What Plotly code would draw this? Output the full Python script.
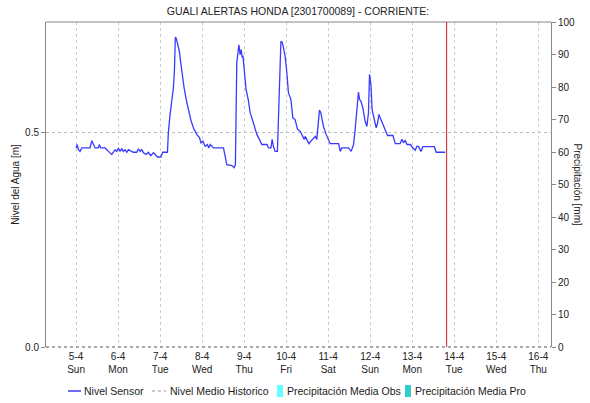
import pandas as pd
import plotly.graph_objects as go

# nivel del sensor: horas desde 5-4 00:00 y nivel [m]
horas = [0, 0.7, 1.3, 2.3, 3.3, 8.0, 9.0, 9.9, 10.9, 12.7, 13.3, 14.1, 16.6, 18.5, 20.4, 22.3, 23.3,
         24.2, 25.1, 26.1, 27.0, 28.0, 29.0, 29.9, 32.7, 34.7, 35.6, 36.6, 37.5, 38.5, 40.0, 41.3, 42.7,
         44.2, 45.7, 46.5, 48.4, 49.5, 52.2, 52.7, 53.7, 54.7, 55.6, 56.2, 56.7, 57.1, 57.9, 59.0, 59.8,
         60.6, 61.7, 62.9, 64.2, 65.5, 67.0, 69.0, 70.5, 71.3, 72.4, 73.7, 75.0, 75.8, 76.6, 77.5, 78.5,
         84.2, 85.1, 86.1, 89.0, 90.3, 91.0, 91.4, 91.8, 93.0, 93.7, 94.3, 94.9, 95.3, 96.0, 97.1, 98.5,
         99.4, 100.4, 101.7, 103.3, 104.7, 106.1, 109.0, 109.9, 111.3, 112.0, 112.7, 113.7, 115.0, 115.8,
         116.6, 117.0, 117.7, 118.5, 119.4, 120.4, 121.3, 122.7, 123.8, 125.1, 126.5, 128.0, 129.5, 130.3,
         130.9, 131.8, 133.0, 134.1, 135.6, 136.6, 137.5, 138.3, 139.0, 139.8, 140.6, 141.3, 142.9, 144.2,
         145.1, 149.9, 150.9, 151.8, 155.6, 157.1, 158.5, 159.4, 160.4, 161.3, 161.9, 162.7, 163.8, 165.1,
         166.1, 167.0, 167.6, 168.4, 169.1, 170.3, 171.4, 172.2, 173.0, 173.7, 175.3, 176.6, 177.9, 181.0,
         182.3, 185.1, 186.1, 187.0, 188.0, 189.0, 190.9, 192.4, 193.7, 194.7, 195.6, 197.0, 198.1, 204.6,
         205.7, 210.9]
nivel = [0.463, 0.471, 0.459, 0.455, 0.463, 0.463, 0.480, 0.471, 0.463, 0.463, 0.471, 0.463, 0.463, 0.455,
         0.448, 0.459, 0.455, 0.463, 0.455, 0.461, 0.455, 0.459, 0.453, 0.459, 0.453, 0.453, 0.461, 0.455,
         0.459, 0.452, 0.448, 0.453, 0.445, 0.452, 0.444, 0.442, 0.442, 0.453, 0.453, 0.498, 0.541, 0.576,
         0.603, 0.645, 0.721, 0.719, 0.707, 0.688, 0.661, 0.634, 0.603, 0.576, 0.552, 0.529, 0.510, 0.494,
         0.487, 0.475, 0.479, 0.467, 0.471, 0.463, 0.471, 0.466, 0.463, 0.463, 0.448, 0.424, 0.422, 0.417,
         0.424, 0.513, 0.661, 0.703, 0.680, 0.692, 0.673, 0.678, 0.653, 0.599, 0.572, 0.545, 0.533, 0.513,
         0.494, 0.483, 0.471, 0.471, 0.463, 0.463, 0.483, 0.467, 0.455, 0.455, 0.591, 0.661, 0.711, 0.709,
         0.696, 0.676, 0.638, 0.591, 0.576, 0.533, 0.529, 0.506, 0.502, 0.490, 0.483, 0.490, 0.483, 0.473,
         0.479, 0.487, 0.490, 0.483, 0.513, 0.551, 0.545, 0.525, 0.513, 0.494, 0.483, 0.473, 0.473, 0.455,
         0.463, 0.463, 0.455, 0.471, 0.506, 0.552, 0.593, 0.576, 0.572, 0.556, 0.525, 0.513, 0.545, 0.634,
         0.610, 0.552, 0.533, 0.510, 0.521, 0.541, 0.533, 0.517, 0.506, 0.492, 0.492, 0.473, 0.473, 0.483,
         0.475, 0.481, 0.471, 0.471, 0.463, 0.458, 0.467, 0.466, 0.455, 0.466, 0.466, 0.453, 0.453]

dias = ["2026-04-%02d" % d for d in range(5, 17)]
etiquetas = ["5-4<br>Sun", "6-4<br>Mon", "7-4<br>Tue", "8-4<br>Wed", "9-4<br>Thu", "10-4<br>Fri",
             "11-4<br>Sat", "12-4<br>Sun", "13-4<br>Mon", "14-4<br>Tue", "15-4<br>Wed", "16-4<br>Thu"]
ahora = "2026-04-13 19:40"
rango = ["2026-04-04 06:50", "2026-04-16 07:15"]

t = pd.Timestamp("2026-04-05") + pd.to_timedelta(horas, unit="h")

fuente = "Liberation Sans, Arial, sans-serif"
W, H = 590, 403
ML, MR, MT, MB = 46, 39, 22, 56
pw, ph = W - ML - MR, H - MT - MB


def px(x):
    return (x - ML) / pw


def py(y):
    return (H - MB - y) / ph


fig = go.Figure()

fig.add_trace(go.Scatter(x=t, y=nivel, mode="lines", name="Nivel Sensor", showlegend=False,
                         line=dict(color="#3a3aff", width=1.3)))
# eje derecho visible aunque no haya barras de precipitacion
fig.add_trace(go.Bar(x=[None], y=[None], name="Precipitación Media Obs", yaxis="y2",
                     marker_color="#66ffff", showlegend=False))

# leyenda dibujada a mano para que quepa en una sola fila
ley_y = 391
shapes = [
    dict(type="line", xref="paper", yref="paper", x0=0, x1=1, y0=1, y1=1,
         line=dict(color="#888888", width=1)),
    dict(type="line", xref="paper", yref="paper", x0=0, x1=1, y0=0, y1=0,
         line=dict(color="#555555", width=1, dash="dot")),
    dict(type="line", xref="x", yref="paper", x0=ahora, x1=ahora, y0=0, y1=1,
         line=dict(color="#d02020", width=1)),
    dict(type="line", xref="paper", yref="paper", x0=px(68), x1=px(81), y0=py(ley_y), y1=py(ley_y),
         line=dict(color="#2020ee", width=1.3)),
    dict(type="line", xref="paper", yref="paper", x0=px(152), x1=px(166), y0=py(ley_y), y1=py(ley_y),
         line=dict(color="#bbbbbb", width=1.3, dash="dot")),
    dict(type="rect", xref="paper", yref="paper", x0=px(277), x1=px(283), y0=py(397), y1=py(385),
         line=dict(width=0), fillcolor="#66ffff"),
    dict(type="rect", xref="paper", yref="paper", x0=px(405), x1=px(411), y0=py(397), y1=py(385),
         line=dict(width=0), fillcolor="#33cccc"),
]
annotations = [dict(text="Precipitación [mm]", textangle=90, xref="paper", yref="paper",
                    x=px(577), y=0.5, xanchor="center", yanchor="middle",
                    showarrow=False, font=dict(size=10, color="#222"))]
for xt, txt in [(82, "Nivel Sensor"), (168, "Nivel Medio Historico"),
                (285, "Precipitación Media Obs"), (413, "Precipitación Media Pro")]:
    annotations.append(dict(text=txt, xref="paper", yref="paper", x=px(xt), y=py(ley_y),
                            xanchor="left", yanchor="middle", showarrow=False,
                            font=dict(size=10.5, color="#222")))

fig.update_layout(
    width=W, height=H,
    margin=dict(l=ML, r=MR, t=MT, b=MB),
    plot_bgcolor="white", paper_bgcolor="white",
    font=dict(family=fuente, size=10, color="#222"),
    title=dict(text="GUALI ALERTAS HONDA [2301700089] - CORRIENTE:", x=0.505, xanchor="center",
               y=0.972, yanchor="middle", font=dict(size=10.5, color="#222")),
    showlegend=False,
    xaxis=dict(type="date", range=rango, tickvals=dias, ticktext=etiquetas, automargin=False,
               showgrid=True, gridcolor="#cccccc", griddash="dot", gridwidth=1,
               showline=False, zeroline=False, ticks="", tickfont=dict(size=10),
               ticklabelstandoff=2),
    yaxis=dict(range=[0, 0.756], tickvals=[0, 0.5], tickformat=".1f", automargin=False,
               showgrid=True, gridcolor="#bbbbbb", griddash="dot", zeroline=False,
               showline=True, linecolor="#888888", ticks="outside", ticklen=4,
               tickcolor="#888888", title=dict(text="Nivel del Agua [m]", font=dict(size=10), standoff=3)),
    yaxis2=dict(range=[0, 100], dtick=10, overlaying="y", side="right", automargin=False,
                showgrid=False, zeroline=False, showline=True, linecolor="#888888",
                ticks="outside", ticklen=4, tickcolor="#888888"),
    annotations=annotations,
    shapes=shapes,
)

# quitar el margen por defecto de la pagina
fig.write_html("out.html", config={"displayModeBar": False},
               post_script="document.body.style.margin='0';")
